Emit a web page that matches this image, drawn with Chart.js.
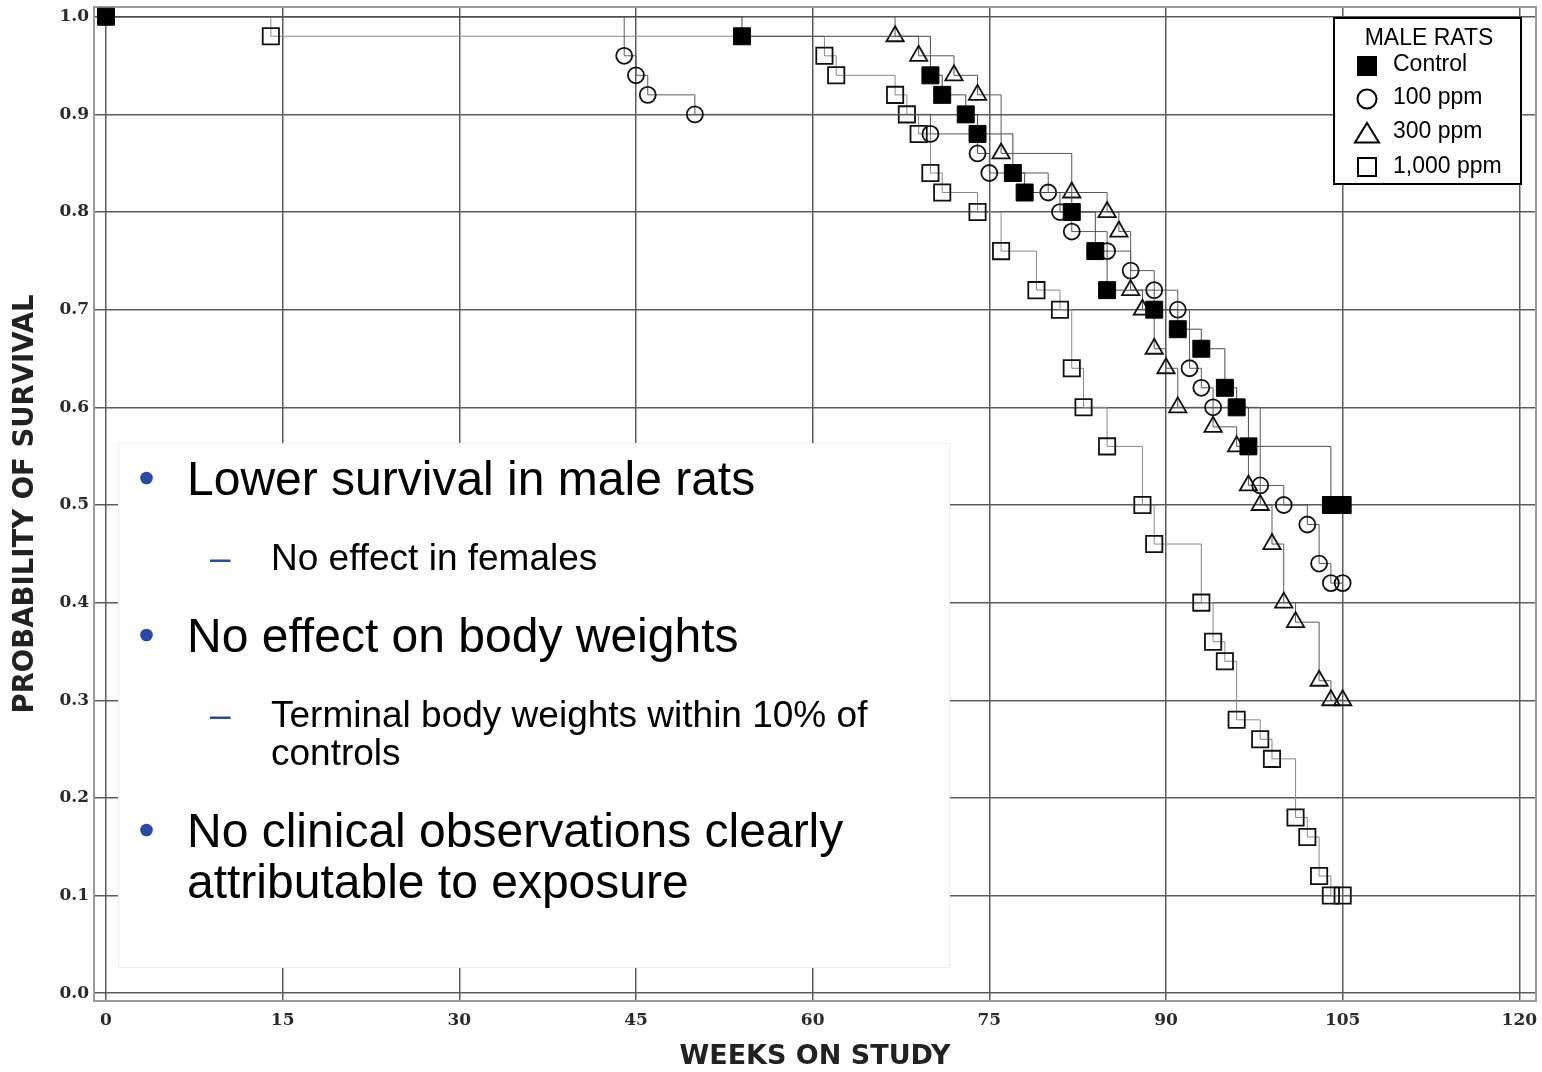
<!DOCTYPE html>
<html>
<head>
<meta charset="utf-8">
<script src="https://cdn.jsdelivr.net/npm/chart.js@4.4.1/dist/chart.umd.min.js"></script>
<style>
html,body{margin:0;padding:0;background:#fff;}
#wrap{width:1542px;height:1072px;}
</style>
</head>
<body>
<div id="wrap"><canvas id="c" width="1542" height="1072"></canvas></div>
<script>
// ---------- data ----------
const xTicks = [0, 15, 30, 45, 60, 75, 90, 105, 120];
const yTicks = [0.0, 0.1, 0.2, 0.3, 0.4, 0.5, 0.6, 0.7, 0.8, 0.9, 1.0];
const groupNames = ["Control", "100 ppm", "300 ppm", "1,000 ppm"];
const legendTitle = "MALE RATS";
const xTitle = "WEEKS ON STUDY";
const yTitle = "PROBABILITY OF SURVIVAL";

const controlWeeks    = [0, 54, 70, 71, 73, 74, 77, 78, 82, 84, 85, 89, 91, 93, 95, 96, 97, 104, 105];
const controlSurvival = [1.0, 0.98, 0.94, 0.92, 0.90, 0.88, 0.84, 0.82, 0.80, 0.76, 0.72, 0.70, 0.68, 0.66, 0.62, 0.60, 0.56, 0.50, 0.50];

const ppm100Weeks    = [0, 44, 45, 46, 50, 70, 74, 75, 80, 81, 82, 85, 87, 89, 91, 92, 93, 94, 98, 100, 102, 103, 104, 105];
const ppm100Survival = [1.0, 0.96, 0.94, 0.92, 0.90, 0.88, 0.86, 0.84, 0.82, 0.80, 0.78, 0.76, 0.74, 0.72, 0.70, 0.64, 0.62, 0.60, 0.52, 0.50, 0.48, 0.44, 0.42, 0.42];

const ppm300Weeks    = [0, 67, 69, 72, 74, 76, 82, 85, 86, 87, 88, 89, 90, 91, 94, 96, 97, 98, 99, 100, 101, 103, 104, 105];
const ppm300Survival = [1.0, 0.98, 0.96, 0.94, 0.92, 0.86, 0.82, 0.80, 0.78, 0.72, 0.70, 0.66, 0.64, 0.60, 0.58, 0.56, 0.52, 0.50, 0.46, 0.40, 0.38, 0.32, 0.30, 0.30];

const ppm1000Weeks    = [0, 14, 61, 62, 67, 68, 69, 70, 71, 74, 76, 79, 81, 82, 83, 85, 88, 89, 93, 94, 95, 96, 98, 99, 101, 102, 103, 104, 105];
const ppm1000Survival = [1.0, 0.98, 0.96, 0.94, 0.92, 0.90, 0.88, 0.84, 0.82, 0.80, 0.76, 0.72, 0.70, 0.64, 0.60, 0.56, 0.50, 0.46, 0.40, 0.36, 0.34, 0.28, 0.26, 0.24, 0.18, 0.16, 0.12, 0.10, 0.10];

const noteLines = [
  {level: 1, text: "Lower survival in male rats", bullet: true},
  {level: 2, text: "No effect in females", bullet: true},
  {level: 1, text: "No effect on body weights", bullet: true},
  {level: 2, text: "Terminal body weights within 10% of", bullet: true},
  {level: 2, text: "controls", bullet: false},
  {level: 1, text: "No clinical observations clearly", bullet: true},
  {level: 1, text: "attributable to exposure", bullet: false}
];

// ---------- helpers ----------
function pairs(xs, ys) { return xs.map((x, i) => ({x: x, y: ys[i]})); }
const hideFirst = r => (c => c.dataIndex === 0 ? 0 : r);

const bgPlugin = {
  id: 'bg',
  beforeDraw(chart) {
    const ctx = chart.ctx;
    ctx.save();
    ctx.fillStyle = '#fff';
    ctx.fillRect(0, 0, chart.width, chart.height);
    ctx.restore();
  }
};

const framePlugin = {
  id: 'frame',
  beforeDatasetsDraw(chart) {
    const {ctx, chartArea: a} = chart;
    ctx.save();
    ctx.strokeStyle = '#9a9a9a';
    ctx.lineWidth = 2;
    ctx.strokeRect(a.left + 1, a.top + 1, a.right - a.left - 2, a.bottom - a.top - 2);
    // text panel overlay (white box)
    ctx.fillStyle = '#fff';
    ctx.fillRect(118, 443, 832, 525);
    ctx.strokeStyle = '#eeeeee';
    ctx.lineWidth = 1;
    ctx.strokeRect(118.5, 443.5, 831, 524);
    // text
    const baselines = [495, 570, 652, 727, 765, 847, 898];
    noteLines.forEach((ln, i) => {
      const y = baselines[i];
      if (ln.level === 1) {
        ctx.font = '48px "Liberation Sans", Arial, sans-serif';
        ctx.fillStyle = '#000';
        ctx.textBaseline = 'alphabetic';
        ctx.textAlign = 'left';
        ctx.fillText(ln.text, 187, y);
        if (ln.bullet) {
          ctx.fillStyle = '#2a48a6';
          ctx.beginPath();
          ctx.arc(146.5, y - 17, 6.3, 0, Math.PI * 2);
          ctx.fill();
        }
      } else {
        ctx.font = '37px "Liberation Sans", Arial, sans-serif';
        ctx.fillStyle = '#000';
        ctx.textBaseline = 'alphabetic';
        ctx.textAlign = 'left';
        ctx.fillText(ln.text, 271, y);
        if (ln.bullet) {
          ctx.fillStyle = '#2a48a6';
          ctx.fillText('\u2013', 210, y);
        }
      }
    });
    ctx.restore();
  }
};

const legendPlugin = {
  id: 'customLegend',
  afterDraw(chart) {
    const ctx = chart.ctx;
    ctx.save();
    ctx.fillStyle = '#fff';
    ctx.fillRect(1333, 18, 188, 167);
    ctx.strokeStyle = '#000';
    ctx.lineWidth = 2;
    ctx.strokeRect(1334, 18, 187, 166);
    ctx.font = '23px "Liberation Sans", Arial, sans-serif';
    ctx.fillStyle = '#000';
    ctx.textAlign = 'center';
    ctx.textBaseline = 'alphabetic';
    ctx.fillText(legendTitle, 1429, 45);
    ctx.textAlign = 'left';
    const base = [71, 104, 138, 173];
    const cy = [66, 99, 133, 167];
    chart.data.datasets.forEach((ds, i) => {
      ctx.fillStyle = '#000';
      ctx.fillText(ds.label, 1393, base[i]);
      ctx.lineWidth = 2;
      ctx.strokeStyle = '#000';
      const y = cy[i], x = 1367;
      if (ds.pointStyle === 'rect' && i === 0) {
        ctx.fillRect(x - 10, y - 10, 20, 20);
      } else if (ds.pointStyle === 'circle') {
        ctx.beginPath(); ctx.arc(x, y, 9.5, 0, Math.PI * 2); ctx.stroke();
      } else if (ds.pointStyle === 'triangle') {
        ctx.beginPath();
        ctx.moveTo(x, y - 10); ctx.lineTo(x + 12, y + 9.5); ctx.lineTo(x - 12, y + 9.5);
        ctx.closePath(); ctx.stroke();
      } else {
        ctx.strokeRect(x - 9, y - 9, 18, 18);
      }
    });
    ctx.restore();
  }
};

const tickFont = {family: '"DejaVu Serif", serif', weight: 'bold', size: 17};
const titleFont = {family: '"DejaVu Sans", sans-serif', weight: 'bold', size: 27, lineHeight: 1};

new Chart(document.getElementById('c'), {
  type: 'line',
  data: {
    datasets: [
      {
        label: groupNames[0],
        data: pairs(controlWeeks, controlSurvival),
        stepped: true,
        borderColor: '#4a4a4a', borderWidth: 1,
        pointStyle: 'rect', pointRadius: 12,
        pointBackgroundColor: '#000', pointBorderColor: '#000', pointBorderWidth: 1
      },
      {
        label: groupNames[1],
        data: pairs(ppm100Weeks, ppm100Survival),
        stepped: true,
        borderColor: '#5a5a5a', borderWidth: 1,
        pointStyle: 'circle', pointRadius: hideFirst(8),
        pointBackgroundColor: 'rgba(0,0,0,0)', pointBorderColor: '#111', pointBorderWidth: 1.8
      },
      {
        label: groupNames[2],
        data: pairs(ppm300Weeks, ppm300Survival),
        stepped: true,
        borderColor: '#5a5a5a', borderWidth: 1,
        pointStyle: 'triangle', pointRadius: hideFirst(10),
        pointBackgroundColor: 'rgba(0,0,0,0)', pointBorderColor: '#111', pointBorderWidth: 1.8
      },
      {
        label: groupNames[3],
        data: pairs(ppm1000Weeks, ppm1000Survival),
        stepped: true,
        borderColor: '#8a8a8a', borderWidth: 1,
        pointStyle: 'rect', pointRadius: hideFirst(11.5),
        pointBackgroundColor: 'rgba(0,0,0,0)', pointBorderColor: '#111', pointBorderWidth: 1.8
      }
    ]
  },
  options: {
    responsive: false,
    animation: false,
    devicePixelRatio: 1,
    layout: {autoPadding: false, padding: {top: 6, right: 5, left: 0, bottom: 0}},
    plugins: {legend: {display: false}, tooltip: {enabled: false}},
    elements: {line: {tension: 0}},
    scales: {
      x: {
        type: 'linear', min: -1.1, max: 121.5,
        afterBuildTicks: s => { s.ticks = xTicks.map(v => ({value: v})); },
        afterFit: s => { s.height = 70; s.paddingLeft = 0; s.paddingRight = 0; },
        grid: {color: '#5c5c5c', lineWidth: 1.5, drawTicks: false},
        border: {display: false},
        ticks: {padding: 8, font: tickFont, color: '#2a2a2a', maxRotation: 0, autoSkip: false,
                callback: v => String(v)},
        title: {display: true, text: xTitle, font: titleFont, color: '#222', padding: {top: 0, bottom: 1.5}}
      },
      y: {
        type: 'linear', min: -0.009, max: 1.011,
        afterBuildTicks: s => { s.ticks = yTicks.map(v => ({value: v})); },
        afterFit: s => { s.width = 93; s.paddingTop = 0; s.paddingBottom = 0; },
        grid: {color: '#5c5c5c', lineWidth: 1.5, drawTicks: false},
        border: {display: false},
        ticks: {padding: 4, font: tickFont, color: '#2a2a2a', autoSkip: false,
                callback: v => Number(v).toFixed(1)},
        title: {display: true, text: yTitle, font: {family: '"DejaVu Sans", sans-serif', weight: 'bold', size: 27.5, lineHeight: 1}, color: '#222', padding: {top: 12.5, bottom: 0}}
      }
    }
  },
  plugins: [bgPlugin, framePlugin, legendPlugin]
});
</script>
</body>
</html>
